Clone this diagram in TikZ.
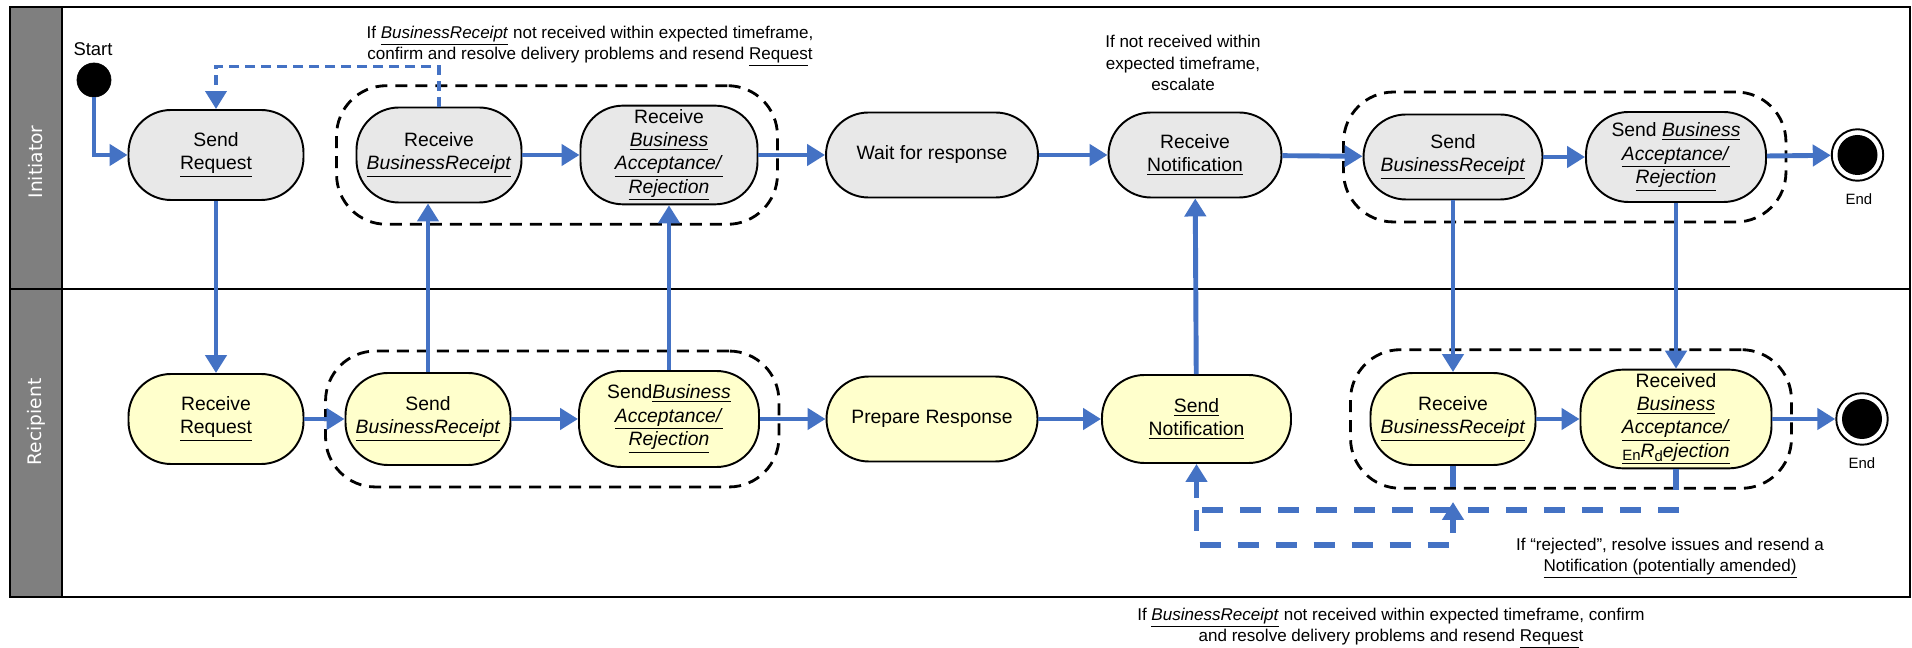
\documentclass[tikz,border=0pt]{standalone}
\usepackage{fontspec}
\setmainfont{Liberation Sans}
\newfontfamily\lanefont{DejaVu Sans}
\usetikzlibrary{arrows.meta,fit}
\definecolor{flowblue}{HTML}{4472C4}
\definecolor{initgray}{HTML}{E8E8E8}
\definecolor{recpyellow}{HTML}{FFFFCC}
\definecolor{lanegray}{HTML}{7F7F7F}
\newcommand{\bu}[1]{\underline{\textit{#1}}}

\begin{document}
\begin{tikzpicture}[
    flow/.style={draw=flowblue, line width=2.8pt, -{Triangle[length=0.36cm,width=0.42cm]}},
    act/.style={draw, line width=1.1pt, rounded corners=0.85cm, minimum height=1.8cm, align=center, font=\fontsize{11}{13.3}\selectfont, inner sep=2pt},
    ini/.style={act, fill=initgray},
    rec/.style={act, fill=recpyellow},
    grp/.style={draw, dash pattern=on 0.24cm off 0.16cm, line width=1.6pt, rounded corners=1cm, inner sep=0.38cm},
    note/.style={align=center, font=\fontsize{9.7}{12}\selectfont},
    fbtop/.style={draw=flowblue, line width=2.2pt, dash pattern=on 0.2cm off 0.12cm},
    fbbot/.style={draw=flowblue, line width=3pt, dash pattern=on 0.42cm off 0.34cm},
    tip/.style={-{Triangle[length=0.36cm,width=0.42cm]}},
    endnode/.style={circle, draw, fill=white, line width=1.1pt, minimum size=1.03cm}
]
    \useasboundingbox (0,0) rectangle (38.24,12.96);

    \fill[lanegray] (0.2,1.02) rectangle (1.24,12.82);
    \draw[line width=1.4pt] (0.2,1.02) rectangle (38.2,12.82);
    \draw[line width=1.4pt] (0.2,7.18) -- (38.2,7.18);
    \draw[line width=1.4pt] (1.24,1.02) -- (1.24,12.82);
    \node[rotate=90, text=white, font=\lanefont\fontsize{10.6}{12}\selectfont] (lane1) at (0.72,9.72) {Initiator};
    \node[rotate=90, text=white, font=\lanefont\fontsize{10.6}{12}\selectfont] (lane2) at (0.72,4.52) {Recipient};

    \node[circle, draw, fill=black, minimum size=0.68cm] (start) at (1.88,11.36) {};
    \node[font=\fontsize{10.5}{12}\selectfont] (startlbl) at (1.86,11.98) {Start};

    \node[ini, minimum width=3.5cm] (sr) at (4.32,9.86) {Send\\\underline{Request}};
    \node[ini, minimum width=3.3cm, minimum height=1.9cm] (rbr) at (8.78,9.86) {Receive\\\bu{BusinessReceipt}};
    \node[ini, minimum width=3.54cm, minimum height=1.9cm] (rbar) at (13.38,9.86) {Receive\\\bu{Business}\\\bu{Acceptance/}\\\bu{Rejection}};
    \node[ini, minimum width=4.24cm, minimum height=1.7cm] (wait) at (18.64,9.86) {Wait for response};
    \node[ini, minimum width=3.46cm, minimum height=1.7cm] (rnot) at (23.9,9.86) {Receive\\\underline{Notification}};
    \node[ini, minimum width=3.58cm, minimum height=1.7cm] (sbr) at (29.06,9.82) {Send\\\bu{BusinessReceipt}};
    \node[ini, minimum width=3.6cm] (sbar) at (33.52,9.82) {Send \bu{Business}\\\bu{Acceptance/}\\\bu{Rejection}};
    \node[endnode] (end1) at (37.15,9.86) {};
    \fill (end1) circle (0.4cm);
    \node[font=\fontsize{8.5}{10}\selectfont] (endlbl1) at (37.18,8.98) {End};

    \node[rec, minimum width=3.5cm] (rr) at (4.32,4.58) {Receive\\\underline{Request}};
    \node[rec, minimum width=3.3cm, minimum height=1.84cm] (sbr2) at (8.56,4.58) {Send\\\bu{BusinessReceipt}};
    \node[rec, minimum width=3.6cm, minimum height=1.92cm] (sbar2) at (13.38,4.58) {Send\bu{Business}\\\bu{Acceptance/}\\\bu{Rejection}};
    \node[rec, minimum width=4.22cm, minimum height=1.7cm] (prep) at (18.64,4.58) {Prepare Response};
    \node[rec, minimum width=3.78cm, minimum height=1.76cm] (snot) at (23.93,4.58) {\underline{Send}\\\underline{Notification}};
    \node[rec, minimum width=3.3cm, minimum height=1.84cm] (rbr2) at (29.06,4.58) {Receive\\\bu{BusinessReceipt}};
    \node[rec, minimum width=3.82cm, minimum height=1.92cm] (rcvbar) at (33.52,4.58) {Received\\\bu{Business}\\\bu{Acceptance/}\\\underline{\raisebox{-0.15em}{\fontsize{8.5}{10}\selectfont En}\textit{R}\raisebox{-0.2em}{\fontsize{8.5}{10}\selectfont d}\textit{ejection}}};
    \node[endnode] (end2) at (37.24,4.58) {};
    \fill (end2) circle (0.4cm);
    \node[font=\fontsize{8.5}{10}\selectfont] (endlbl2) at (37.24,3.7) {End};

    \node[grp, fit=(rbr)(rbar)] (g1) {};
    \node[grp, fit=(sbr)(sbar)] (g2) {};
    \node[grp, fit=(sbr2)(sbar2)] (g3) {};
    \node[grp, fit=(rbr2)(rcvbar)] (g4) {};

    \draw[flow] (start) |- (sr);
    \draw[flow] (rbr) to (rbar);
    \draw[flow] (rbar) to (wait);
    \draw[flow] (wait) to (rnot);
    \draw[flow] (rnot) to (sbr);
    \draw[flow] (sbr) to (sbar);
    \draw[flow] (sbar) to (end1);
    \draw[flow] (rr) to (sbr2);
    \draw[flow] (sbr2) to (sbar2);
    \draw[flow] (sbar2) to (prep);
    \draw[flow] (prep) to (snot);
    \draw[flow] (rbr2) to (rcvbar);
    \draw[flow] (rcvbar) to (end2);
    \draw[flow] (sr) to (rr);
    \draw[flow] (sbr2.north) to (sbr2.north |- rbr.south);
    \draw[flow] (sbar2) to (rbar);
    \draw[flow] (snot) to (rnot);
    \draw[flow] (sbr) to (rbr2);
    \draw[flow] (sbar) to (rcvbar);

    \coordinate (fbcorner) at (4.32,11.63);
    \draw[fbtop, tip] (rbr.north) |- (fbcorner) -- (sr.north);
    \coordinate (rejcorner) at (23.93,2.76);
    \coordinate (brcorner) at (23.93,2.06);
    \coordinate (brtip) at (29.06,2.92);
    \draw[fbbot, tip] (rcvbar.south) |- (rejcorner) -- (snot.south);
    \draw[fbbot, tip] (rejcorner) -- (brcorner) -| (brtip);
    \draw[fbbot] (rbr2.south) -- ++(0,-0.44);

    \node[note] (fbnote1) at (11.8,12.04) {If \bu{BusinessReceipt} not received within expected timeframe,\\confirm and resolve delivery problems and resend \underline{Reques}t};
    \node[note] (escnote) at (23.66,11.7) {If not received within\\expected timeframe,\\escalate};
    \node[note] (rejnote) at (33.4,1.8) {If “rejected”, resolve issues and resend a\\\underline{Notification (potentially amended)}};
    \node[note] (fbnote2) at (27.82,0.4) {If \bu{BusinessReceipt} not received within expected timeframe, confirm\\and resolve delivery problems and resend \underline{Reques}t};
\end{tikzpicture}
\end{document}
